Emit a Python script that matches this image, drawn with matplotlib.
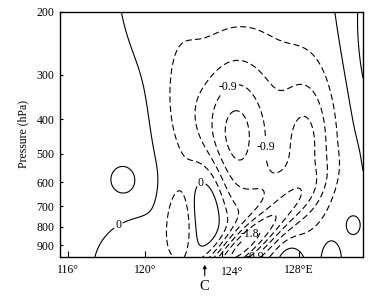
import numpy as np
import matplotlib
matplotlib.use("Agg")
import matplotlib.pyplot as plt
from matplotlib.ticker import FixedLocator, NullLocator

plt.rcParams['font.family'] = ['Liberation Serif', 'DejaVu Serif']
plt.rcParams['axes.unicode_minus'] = False
plt.rcParams['lines.dashed_pattern'] = [5.5, 3.0]

# Anomaly features:
# centre lon (deg E), centre pressure (hPa), amplitude, width along axis (deg), width across (ln p), tilt (deg)
blob_lon = [114.6, 125.9, 124.6, 121.9, 121.0, 132.8, 128.4, 124.9, 123.27, 121.82, 119.2, 127.55, 129.6, 130.75, 119.0, 126.9]
blob_p = [554, 430, 450, 360, 200, 230, 470, 930, 686, 790, 1000, 1010, 975, 790, 595, 620]
blob_amp = [0.28, -0.5, -0.9, -0.25, -0.17, 0.8, -0.65, -1.7, 0.64, -0.55, -0.35, 0.45, 0.35, 0.3, 0.25, -0.3]
blob_wlon = [5.0, 3.0, 1.25, 0.9, 1.5, 1.4, 0.9, 2.6, 0.72, 0.55, 1.5, 0.48, 0.31, 0.2, 0.6, 1.0]
blob_wlnp = [0.7, 0.55, 0.33, 0.28, 0.3, 0.5, 0.3, 0.075, 0.215, 0.17, 0.2, 0.08, 0.075, 0.034, 0.088, 0.12]
blob_tilt = [0, 0, 0, 0, 0, 0, 0, 42, 0, 0, 0, 0, 0, 0, 0, 0]

levels = [-2.1, -1.8, -1.5, -1.2, -0.9, -0.6, -0.3, 0.0, 0.3, 0.6, 0.9]
xtick_vals = [116, 120, 124, 128]
xtick_labels = ['116°', '120°', '', '128°E']
ytick_vals = [200, 300, 400, 500, 600, 700, 800, 900]
label_neg09 = [(124.16, 316), (126.86, 478), (124.9, 945)]
label_neg18 = [(125.56, 858)]
label_zero = [(122.70, 565), (118.70, 806)]

lon_min, lon_max = 115.6, 131.3
p_top, p_bot = 200, 972
K = 155.0 / 19.25  # screen aspect: ln(p) units -> degree-equivalents

lon = np.linspace(lon_min, lon_max, 360)
p = np.exp(np.linspace(np.log(p_top), np.log(p_bot), 360))
LON, P = np.meshgrid(lon, p)
LNP = np.log(P)
F = np.zeros_like(LON)
for lo, pc, a, wl, wp, tt in zip(blob_lon, blob_p, blob_amp, blob_wlon, blob_wlnp, blob_tilt):
    dx = LON - lo
    dy = -(LNP - np.log(pc)) * K
    th = np.deg2rad(tt)
    u = dx * np.cos(th) + dy * np.sin(th)
    v = -dx * np.sin(th) + dy * np.cos(th)
    F += a * np.exp(-0.5 * ((u / wl) ** 2 + (v / (wp * K)) ** 2))

fig = plt.figure(figsize=(3.89, 3.0), dpi=100)
ax = fig.add_axes([60/389, 43/300, 303/389, 245/300])

ax.set_yscale('log')
ax.set_ylim(p_bot, p_top)
ax.set_xlim(lon_min, lon_max)

labeled = [-1.8, -0.9, 0.0]
kw = dict(colors='black', linewidths=0.8)
neg_rest = [l for l in levels if l < -1e-9 and l not in labeled]
pos_rest = [l for l in levels if l > 1e-9]
ax.contour(LON, P, F, levels=neg_rest, linestyles='dashed', **kw)
ax.contour(LON, P, F, levels=pos_rest, linestyles='solid', **kw)
cs09 = ax.contour(LON, P, F, levels=[-0.9], linestyles='dashed', **kw)
cs18 = ax.contour(LON, P, F, levels=[-1.8], linestyles='dashed', **kw)
cs0 = ax.contour(LON, P, F, levels=[0.0], linestyles='solid', **kw)

fmt = lambda v: ('%g' % v).replace('\u2212', '-')
texts = []
texts += ax.clabel(cs09, manual=label_neg09, inline=True, fmt=fmt, fontsize=8.5, inline_spacing=2)
texts += ax.clabel(cs18, manual=label_neg18, inline=True, fmt=fmt, fontsize=8.5, inline_spacing=2)
texts += ax.clabel(cs0, manual=label_zero, inline=True, fmt=lambda v: '0', fontsize=8.5, inline_spacing=2)
for t in texts:
    t.set_rotation(0)

ax.yaxis.set_major_locator(FixedLocator(ytick_vals))
ax.yaxis.set_minor_locator(NullLocator())
ax.set_yticklabels([str(v) for v in ytick_vals])
ax.set_xticks(xtick_vals)
ax.set_xticklabels(xtick_labels)
ax.tick_params(direction='in', labelsize=8.5, width=0.8)
ax.tick_params(axis='x', length=4, pad=5)
ax.tick_params(axis='y', length=2.5, pad=4)
for s in ax.spines.values():
    s.set_linewidth(1.0)
ax.set_ylabel('Pressure (hPa)', fontsize=8.5, labelpad=5)

ax.text(124.5, -0.035, '124°', transform=ax.get_xaxis_transform(), ha='center', va='top', fontsize=8.5)
ax.annotate('', xy=(123.1, -0.02), xytext=(123.1, -0.088), xycoords=('data', 'axes fraction'),
            textcoords=('data', 'axes fraction'),
            arrowprops=dict(arrowstyle='-|>', lw=0.8, color='black', mutation_scale=5))
ax.text(123.1, -0.095, 'C', transform=ax.get_xaxis_transform(), ha='center', va='top', fontsize=10.5)

fig.savefig('out.png', dpi=100)
